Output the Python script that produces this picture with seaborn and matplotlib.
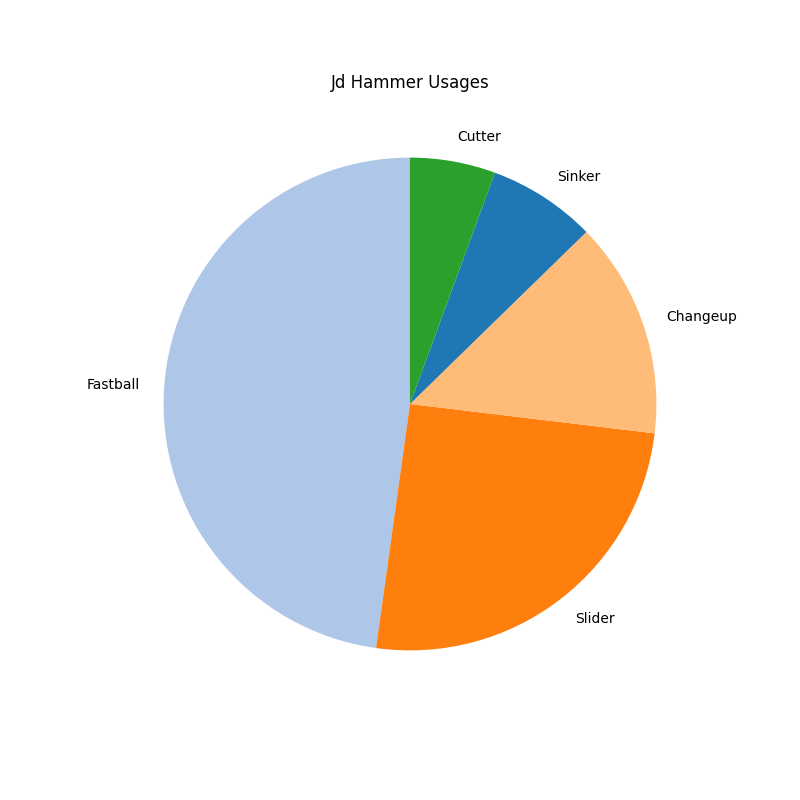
import matplotlib
matplotlib.use("Agg")
import matplotlib.pyplot as plt
import seaborn as sns

pitcher = "Jd Hammer"

pitches = ["Fastball", "Slider", "Changeup", "Sinker", "Cutter"]
usage = [47.8, 25.3, 14.2, 7.1, 5.6]

pal = sns.color_palette("tab20")
colors = [pal[1], pal[2], pal[3], pal[0], pal[4]]

fig = plt.figure(figsize=(8, 8), dpi=100)
plt.pie(usage, labels=pitches, colors=colors, startangle=90)
plt.title(f"{pitcher} Usages")
plt.savefig("out.png")
